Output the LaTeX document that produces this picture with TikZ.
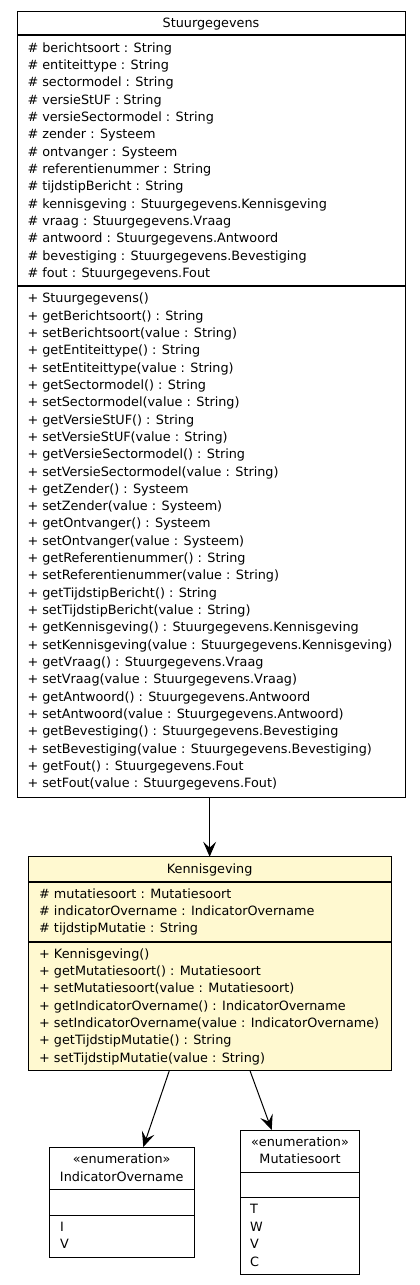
\documentclass[tikz,border=0pt]{standalone}
\usepackage{fontspec}
\setmainfont{DejaVu Sans}
\usetikzlibrary{arrows.meta}
\definecolor{kyellow}{RGB}{255,249,208}
\newcommand{\umlfs}{\fontsize{12.8pt}{15pt}\selectfont}
\begin{document}
\begin{tikzpicture}[x=1pt,y=-1pt,
  box/.style={draw=black, line width=1pt, inner sep=0pt, outer sep=0pt, anchor=north west},
  sep/.style={draw=black, line width=1.2pt},
  txt/.style={anchor=base west, inner sep=0pt, font=\umlfs},
  ttl/.style={anchor=base, inner sep=0pt, font=\umlfs},
  arr/.style={draw=black, line width=1pt, -{Stealth[length=15pt, width=13pt, inset=6pt]}}]
\useasboundingbox (0,0) rectangle (420,1285);

% ---- Stuurgegevens ----
\node[box, minimum width=388pt, minimum height=786pt] (S) at (17,11) {};
\draw[sep] (S.west |- 0,35) -- (S.east |- 0,35);
\draw[sep] (S.west |- 0,286) -- (S.east |- 0,286);
\node[ttl] (st) at (211,27.7) {Stuurgegevens};
\foreach [count=\i from 0] \t in {
  {\# berichtsoort : String},
  {\# entiteittype : String},
  {\# sectormodel : String},
  {\# versieStUF : String},
  {\# versieSectormodel : String},
  {\# zender : Systeem},
  {\# ontvanger : Systeem},
  {\# referentienummer : String},
  {\# tijdstipBericht : String},
  {\# kennisgeving : Stuurgegevens.Kennisgeving},
  {\# vraag : Stuurgegevens.Vraag},
  {\# antwoord : Stuurgegevens.Antwoord},
  {\# bevestiging : Stuurgegevens.Bevestiging},
  {\# fout : Stuurgegevens.Fout}}
  \node[txt] (sa\i) at (27.3,{52.3+17.33*\i}) {\t};
\foreach [count=\i from 0] \t in {
  {+ Stuurgegevens()},
  {+ getBerichtsoort() : String},
  {+ setBerichtsoort(value : String)},
  {+ getEntiteittype() : String},
  {+ setEntiteittype(value : String)},
  {+ getSectormodel() : String},
  {+ setSectormodel(value : String)},
  {+ getVersieStUF() : String},
  {+ setVersieStUF(value : String)},
  {+ getVersieSectormodel() : String},
  {+ setVersieSectormodel(value : String)},
  {+ getZender() : Systeem},
  {+ setZender(value : Systeem)},
  {+ getOntvanger() : Systeem},
  {+ setOntvanger(value : Systeem)},
  {+ getReferentienummer() : String},
  {+ setReferentienummer(value : String)},
  {+ getTijdstipBericht() : String},
  {+ setTijdstipBericht(value : String)},
  {+ getKennisgeving() : Stuurgegevens.Kennisgeving},
  {+ setKennisgeving(value : Stuurgegevens.Kennisgeving)},
  {+ getVraag() : Stuurgegevens.Vraag},
  {+ setVraag(value : Stuurgegevens.Vraag)},
  {+ getAntwoord() : Stuurgegevens.Antwoord},
  {+ setAntwoord(value : Stuurgegevens.Antwoord)},
  {+ getBevestiging() : Stuurgegevens.Bevestiging},
  {+ setBevestiging(value : Stuurgegevens.Bevestiging)},
  {+ getFout() : Stuurgegevens.Fout},
  {+ setFout(value : Stuurgegevens.Fout)}}
  \node[txt] (sm\i) at (27.3,{302.7+17.33*\i}) {\t};

% ---- Kennisgeving ----
\node[box, fill=kyellow, minimum width=362.7pt, minimum height=214pt] (K) at (28.3,856.7) {};
\draw[sep] (K.west |- 0,882) -- (K.east |- 0,882);
\draw[sep] (K.west |- 0,942) -- (K.east |- 0,942);
\node[ttl] (kt) at (209.7,873) {Kennisgeving};
\foreach [count=\i from 0] \t in {
  {\# mutatiesoort : Mutatiesoort},
  {\# indicatorOvername : IndicatorOvername},
  {\# tijdstipMutatie : String}}
  \node[txt] (ka\i) at (39,{898+17.4*\i}) {\t};
\foreach [count=\i from 0] \t in {
  {+ Kennisgeving()},
  {+ getMutatiesoort() : Mutatiesoort},
  {+ setMutatiesoort(value : Mutatiesoort)},
  {+ getIndicatorOvername() : IndicatorOvername},
  {+ setIndicatorOvername(value : IndicatorOvername)},
  {+ getTijdstipMutatie() : String},
  {+ setTijdstipMutatie(value : String)}}
  \node[txt] (km\i) at (39,{958+17.35*\i}) {\t};

% ---- IndicatorOvername ----
\node[box, minimum width=144.7pt, minimum height=110.7pt] (IO) at (49.3,1147) {};
\draw[sep] (IO.west |- 0,1189.3) -- (IO.east |- 0,1189.3);
\draw[sep] (IO.west |- 0,1215.3) -- (IO.east |- 0,1215.3);
\node[ttl] (ios) at (121.7,1163) {«enumeration»};
\node[ttl] (iot) at (121.7,1181) {IndicatorOvername};
\node[txt] (io1) at (60,1231) {I};
\node[txt] (io2) at (60,1248.5) {V};

% ---- Mutatiesoort ----
\node[box, minimum width=118.6pt, minimum height=144.7pt] (MS) at (240.7,1130) {};
\draw[sep] (MS.west |- 0,1172.7) -- (MS.east |- 0,1172.7);
\draw[sep] (MS.west |- 0,1197.7) -- (MS.east |- 0,1197.7);
\node[ttl] (mss) at (300,1146) {«enumeration»};
\node[ttl] (mst) at (300,1163) {Mutatiesoort};
\node[txt] (ms1) at (250,1213) {T};
\node[txt] (ms2) at (250,1231) {W};
\node[txt] (ms3) at (250,1248.5) {V};
\node[txt] (ms4) at (250,1266) {C};

% ---- connectors ----
\coordinate (kA) at (169.3,1070.7);
\coordinate (ioA) at (143.3,1147);
\coordinate (kB) at (250,1070.7);
\coordinate (msA) at (271.7,1130);
\draw[arr] (S.south -| K.north) -- (K.north);
\draw[arr] (kA) -- (ioA);
\draw[arr] (kB) -- (msA);
\end{tikzpicture}
\end{document}
